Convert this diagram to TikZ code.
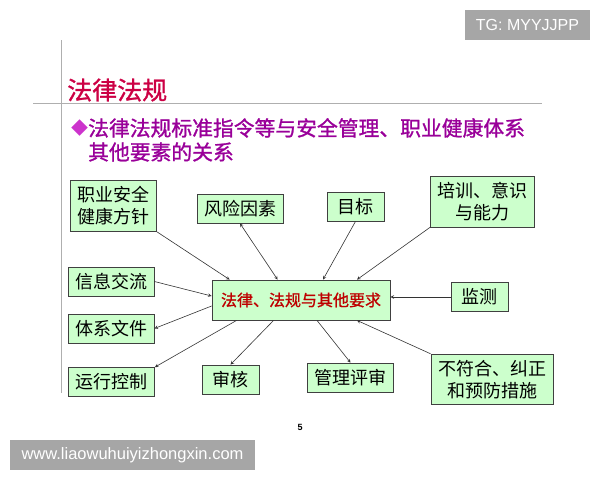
\documentclass[tikz,border=0pt]{standalone}
\usepackage{xcolor}
\usepackage{fontspec}
\usepackage{tikz}

\newfontfamily\cjk{Noto Sans CJK SC}
\newfontfamily\cjkbold[FakeBold=1.2]{Noto Sans CJK SC}
\newfontfamily\wmfont{Liberation Sans}

\definecolor{boxgreen}{RGB}{204,255,204}
\definecolor{titlered}{RGB}{204,0,68}
\definecolor{subpurple}{RGB}{153,0,153}
\definecolor{bulletpink}{RGB}{204,51,204}
\definecolor{lawred}{RGB}{190,0,0}
\definecolor{rulegray}{RGB}{175,175,175}
\definecolor{wmgray}{RGB}{166,166,166}

\begin{document}
\begin{tikzpicture}[x=1pt, y=-1pt, >=stealth,
    box/.style={draw=black!75, fill=boxgreen, line width=0.8pt, inner xsep=7pt, inner ysep=6pt,
        minimum width=57pt, minimum height=29pt, align=center, font=\cjk\fontsize{18}{22}\selectfont},
    link/.style={line width=0.6pt, draw=black!80},
    mark box/.style={fill=wmgray, text=white, inner sep=0pt, minimum height=30pt}]
    \useasboundingbox (0, 0) rectangle (600, 480);

    % page frame
    \coordinate (vtop) at (61, 40);
    \coordinate (vbot) at (61, 393);
    \coordinate (hleft) at (33, 103);
    \coordinate (hright) at (542, 103);
    \draw[rulegray, line width=0.8pt] (vtop) -- (vbot);
    \draw[rulegray, line width=0.8pt] (hleft) -- (hright);

    \node[anchor=west, inner sep=0pt, text=titlered, font=\cjkbold\fontsize{25}{30}\selectfont] at (67, 90) (title) {法律法规};
    \node[anchor=west, inner sep=0pt, text=bulletpink, font=\cjk\fontsize{17}{20}\selectfont] at (71, 128) (bullet) {◆};
    \node[anchor=north west, inner sep=0pt, align=left, text=subpurple, font=\cjkbold\fontsize{20.8}{24}\selectfont] at (88, 118) (subtitle)
        {法律法规标准指令等与安全管理、职业健康体系\\其他要素的关系};

    \node[box, minimum width=178pt, minimum height=40pt, text=lawred, font=\cjkbold\fontsize{16}{20}\selectfont] at (301, 300) (law) {法律、法规与其他要求};

    \node[box] at (113.5, 206) (policy) {职业安全\\健康方针};
    \node[box] at (240, 208.5) (risk) {风险因素};
    \node[box] at (355.5, 206.5) (goal) {目标};
    \node[box] at (482.5, 201.5) (training) {培训、意识\\与能力};
    \node[box] at (111, 281.5) (comm) {信息交流};
    \node[box] at (479.5, 297) (monitor) {监测};
    \node[box] at (111, 328.5) (docs) {体系文件};
    \node[box] at (111.5, 382) (ops) {运行控制};
    \node[box] at (230.5, 379.5) (audit) {审核};
    \node[box] at (350.5, 377.5) (review) {管理评审};
    \node[box] at (492, 379.5) (nonconf) {不符合、纠正\\和预防措施};

    \draw[link, ->] (policy.south east) -- ([xshift=18pt]law.north west);
    \draw[link, <->] (risk.south) -- ([xshift=66pt]law.north west);
    \draw[link, ->] (goal.south) -- ([xshift=22pt]law.north);
    \draw[link, ->] (training.south west) -- ([xshift=56pt]law.north);
    \draw[link, ->] (comm.east) -- ([yshift=4pt]law.west);
    \draw[link, ->] (monitor.west) -- (monitor.west -| law.east);
    \draw[link, ->] ([yshift=-6pt]law.west) -- (docs.east);
    \draw[link, ->] ([xshift=25pt]law.south west) -- (ops.north east);
    \draw[link, ->] ([xshift=62pt]law.south west) -- (audit.north);
    \draw[link, ->] ([xshift=16pt]law.south) -- (review.north);
    \draw[link, ->] (nonconf.north west) -- ([xshift=56pt]law.south);

    \node[font=\wmfont\bfseries\fontsize{9}{10}\selectfont] at (300, 427) (page) {5};

    \node[mark box, minimum width=125pt, font=\wmfont\fontsize{16}{18}\selectfont] at (527.5, 25) (tg) {TG: MYYJJPP};
    \node[mark box, minimum width=245pt, font=\wmfont\fontsize{16.5}{18}\selectfont] at (132.5, 455) (site) {www.liaowuhuiyizhongxin.com};
\end{tikzpicture}
\end{document}
